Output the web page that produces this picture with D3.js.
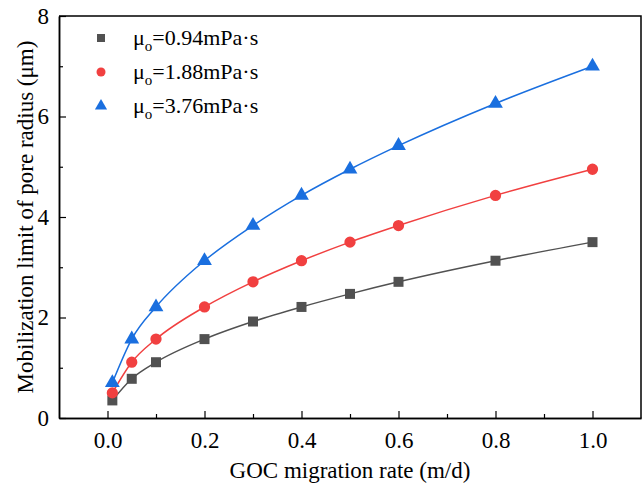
<!DOCTYPE html>
<html>
<head>
<meta charset="utf-8">
<script src="https://cdn.jsdelivr.net/npm/d3@7"></script>
<style>
  body { margin: 0; background: #fff; }
</style>
</head>
<body>
<script>
// data
const rates = [0.01, 0.05, 0.1, 0.2, 0.3, 0.4, 0.5, 0.6, 0.8, 1.0]
const radius094 = [0.35, 0.78, 1.11, 1.57, 1.92, 2.21, 2.47, 2.71, 3.13, 3.50]
const radius188 = [0.50, 1.11, 1.57, 2.21, 2.71, 3.13, 3.50, 3.83, 4.43, 4.95]
const radius376 = [0.70, 1.57, 2.21, 3.13, 3.83, 4.43, 4.95, 5.42, 6.26, 7.00]
const seriesNames = ["0.94mPa·s", "1.88mPa·s", "3.76mPa·s"]
const xTicks = [0.0, 0.2, 0.4, 0.6, 0.8, 1.0]
const yTicks = [0, 2, 4, 6, 8]

const width = 643, height = 489
const margin = { left: 59, right: 2, top: 16, bottom: 71 }
const fontSize = "23px"
const fontFamily = "Liberation Serif, Times New Roman, serif"

const series = [
    { name: seriesNames[0], values: radius094, color: "#515151", shape: d3.symbolSquare, size: 100 },
    { name: seriesNames[1], values: radius188, color: "#F14040", shape: d3.symbolCircle, size: 100 },
    { name: seriesNames[2], values: radius376, color: "#1A6FDF", shape: d3.symbolTriangle, size: 95 }
]

const svg = d3.select("body").append("svg")
    .attr("width", width)
    .attr("height", height)
    .attr("font-family", fontFamily)

const x = d3.scaleLinear().domain([-0.1, 1.1]).range([margin.left, width - margin.right])
const y = d3.scaleLinear().domain([0, 8]).range([height - margin.bottom, margin.top])

// axes, ticks point inward
const xAxis = d3.axisBottom(x).tickValues(xTicks).tickFormat(d3.format(".1f")).tickSizeInner(-7).tickSizeOuter(0).tickPadding(14)
const xMinor = d3.axisBottom(x).tickValues([0.1, 0.3, 0.5, 0.7, 0.9]).tickFormat("").tickSizeInner(-4).tickSizeOuter(0)
const yAxis = d3.axisLeft(y).tickValues(yTicks).tickSizeInner(-7).tickSizeOuter(0).tickPadding(10)
const yMinor = d3.axisLeft(y).tickValues([1, 3, 5, 7]).tickFormat("").tickSizeInner(-4).tickSizeOuter(0)

function styleAxis(g) {
    g.attr("font-family", fontFamily).attr("font-size", fontSize)
    g.selectAll("path").attr("stroke", "#000").attr("stroke-width", 1.5)
    g.selectAll("line").attr("stroke", "#000").attr("stroke-width", 1.2)
    g.selectAll("text").attr("font-family", fontFamily).attr("font-size", fontSize).attr("fill", "#000")
}

svg.append("g").attr("transform", `translate(0,${y(0)})`).call(xAxis).call(styleAxis)
svg.append("g").attr("transform", `translate(0,${y(0)})`).call(xMinor).call(styleAxis)
svg.append("g").attr("transform", `translate(${x(-0.1)},0)`).call(yAxis).call(styleAxis)
svg.append("g").attr("transform", `translate(${x(-0.1)},0)`).call(yMinor).call(styleAxis)

// top and right frame
svg.append("path")
    .attr("d", `M${x(-0.1)},${y(8)}H${x(1.1)}V${y(0)}`)
    .attr("fill", "none")
    .attr("stroke", "#000")
    .attr("stroke-width", 1.5)

// axis titles
svg.append("text")
    .attr("x", (x(-0.1) + x(1.1)) / 2)
    .attr("y", 478)
    .attr("text-anchor", "middle")
    .attr("font-size", fontSize)
    .text("GOC migration rate (m/d)")

svg.append("text")
    .attr("transform", `translate(33,${(y(0) + y(8)) / 2}) rotate(-90)`)
    .attr("text-anchor", "middle")
    .attr("font-size", fontSize)
    .text("Mobilization limit of pore radius (μm)")

// lines and markers
const line = d3.line()
    .x((d, i) => x(rates[i]))
    .y(d => y(d))
    .curve(d3.curveMonotoneX)

series.forEach(s => {
    svg.append("path")
        .datum(s.values)
        .attr("d", line)
        .attr("fill", "none")
        .attr("stroke", s.color)
        .attr("stroke-width", 1.5)

    svg.append("g")
        .selectAll("path")
        .data(s.values)
        .join("path")
        .attr("transform", (d, i) => `translate(${x(rates[i])},${y(d)})`)
        .attr("d", d3.symbol(s.shape, s.size))
        .attr("fill", s.color)
})

// legend
const legend = svg.append("g")
series.forEach((s, i) => {
    const ly = 38 + i * 34
    legend.append("path")
        .attr("transform", `translate(101,${ly})`)
        .attr("d", d3.symbol(s.shape, 64))
        .attr("fill", s.color)
    const t = legend.append("text")
        .attr("x", 133)
        .attr("y", ly + 7)
        .attr("font-size", "22px")
    t.append("tspan").text("μ")
    t.append("tspan").attr("dy", 6).attr("font-size", "15px").text("o")
    t.append("tspan").attr("dy", -6).text("=" + s.name)
})
</script>
</body>
</html>
